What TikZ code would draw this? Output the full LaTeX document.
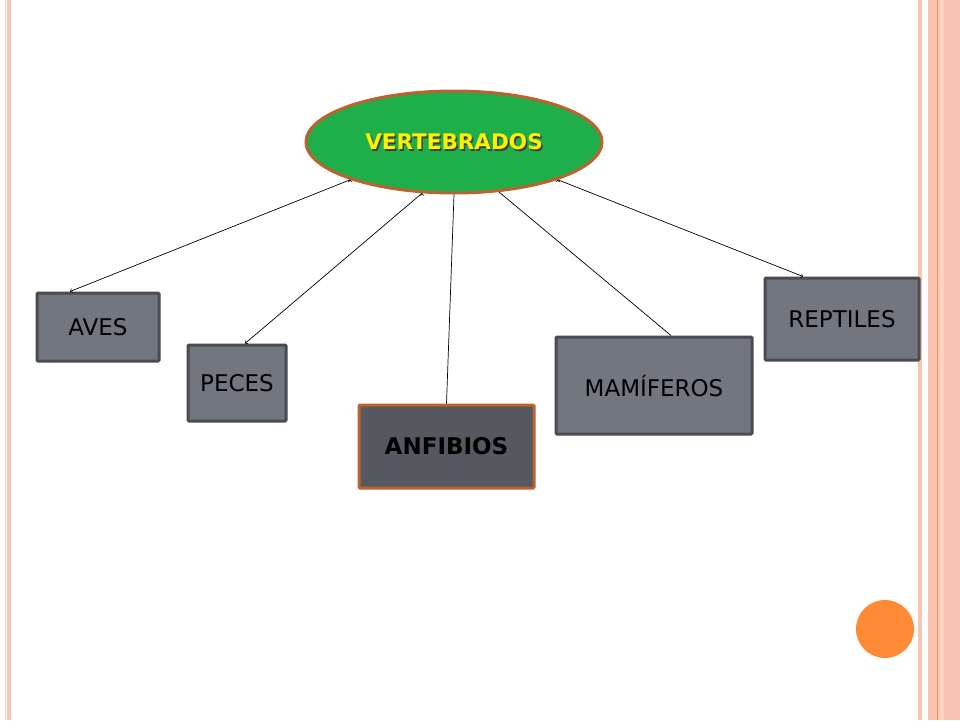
\documentclass[tikz,border=0pt]{standalone}
\usepackage{fontspec}
\setmainfont{DejaVu Sans}
\usepackage{tikz}
\usetikzlibrary{shapes.geometric}

\definecolor{boxgray}{HTML}{72767F}
\definecolor{boxline}{HTML}{4A4C52}
\definecolor{darkgray}{HTML}{55585F}
\definecolor{rust}{HTML}{BC6230}
\definecolor{leafgreen}{HTML}{1EAF4A}
\definecolor{stripe}{HTML}{F9C4B2}
\definecolor{stripelight}{HTML}{FBD3C4}
\definecolor{stripeline}{HTML}{EC935C}
\definecolor{dotorange}{HTML}{FF8A36}

\begin{document}
\begin{tikzpicture}[x=1pt,y=-1pt,
	grupo/.style={shape=rectangle,fill=boxgray,draw=boxline,line width=3pt,rounded corners=1pt,inner sep=0pt,font=\fontsize{23}{26}\selectfont},
	enlace/.style={->,draw=black,line width=0.7pt}]
	
	% slide frame
	\useasboundingbox[fill=white] (0,0) rectangle (960,720);
	\fill[stripelight] (5,0) rectangle (6.3,720);
	\fill[stripe] (7.3,0) rectangle (11,720);
	\fill[stripe] (918,0) rectangle (922,720);
	\fill[stripe] (928,0) rectangle (960,720);
	\fill[stripelight] (939.5,0) rectangle (944,720);
	\draw[stripeline,line width=1pt] (937,0) -- (937,720);
	\fill[dotorange] (885,629) circle (29);
	
	\node[shape=ellipse,fill=leafgreen,draw=rust,line width=3pt,minimum width=296pt,minimum height=102pt,inner sep=0pt] (vert) at (454,142) {};
	\node[text=black!75,font=\fontsize{21.5}{24}\selectfont\bfseries] (vsombra) at (455.5,143.5) {VERTEBRADOS};
	\node[text=yellow,font=\fontsize{21.5}{24}\selectfont\bfseries] (vtexto) at (454,142) {VERTEBRADOS};
	
	\node[grupo,minimum width=122pt,minimum height=68pt] (aves) at (98,327) {AVES};
	\node[grupo,minimum width=98pt,minimum height=76pt] (peces) at (237,383) {PECES};
	\node[grupo,fill=darkgray,draw=rust,minimum width=175pt,minimum height=83pt,font=\fontsize{23}{26}\selectfont\bfseries] (anfibios) at (446.5,446.5) {ANFIBIOS};
	\node[grupo,minimum width=196pt,minimum height=97pt] (mamiferos) at (654,385.5) {MAMÍFEROS};
	\node[grupo,minimum width=154pt,minimum height=82pt] (reptiles) at (842,319) {REPTILES};
	
	\path[enlace] (vert.200) edge ([xshift=-28pt]aves.north);
	\path[enlace] (vert.238) edge ([xshift=8pt]peces.north);
	\path[-,draw=black,line width=0.7pt] (vert.270) edge (anfibios.north);
	\path[-,draw=black,line width=0.7pt] (vert.312) edge ([xshift=17pt]mamiferos.north);
	\path[enlace] (vert.340) edge ([xshift=-39pt]reptiles.north);
	
\end{tikzpicture}
\end{document}
